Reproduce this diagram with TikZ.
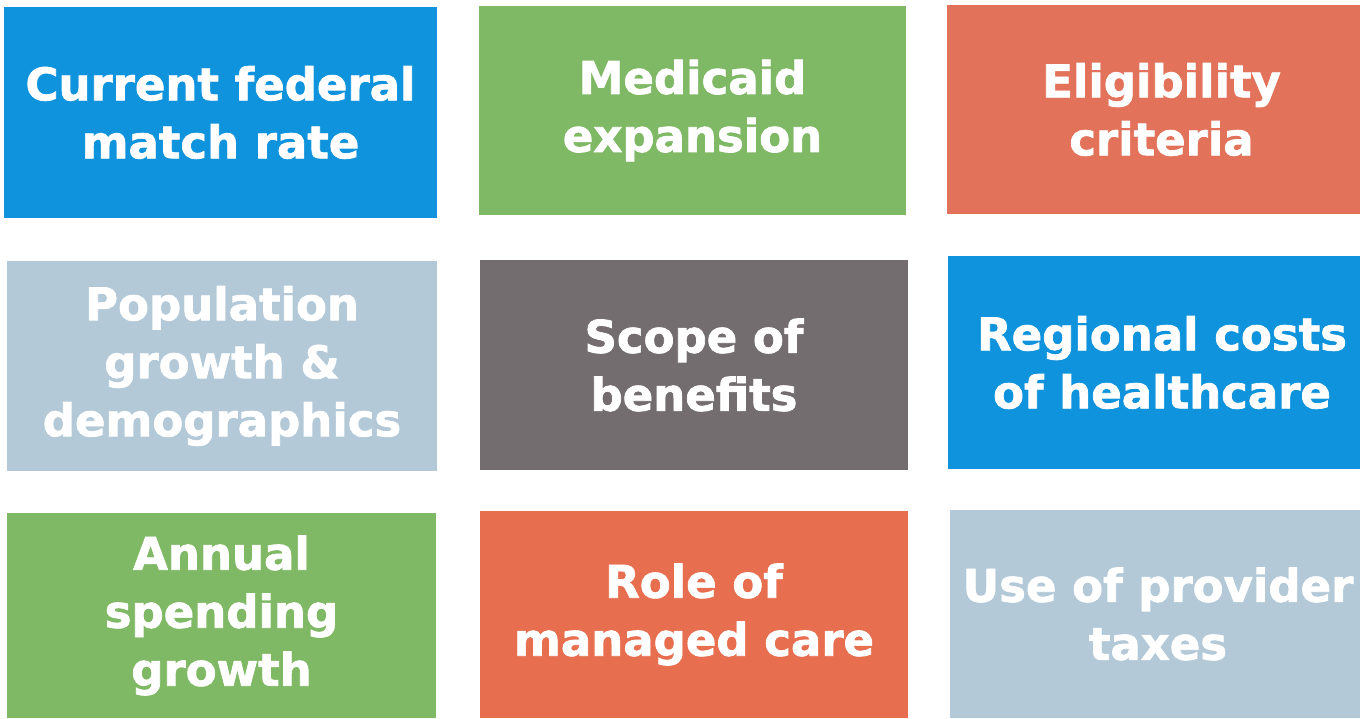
\documentclass[tikz,border=0pt]{standalone}
\usepackage{fontspec}
\newfontfamily\boxfont{DejaVu Sans}[BoldFeatures={FakeBold=1.6}]
\definecolor{cblue}{HTML}{0F93DC}
\definecolor{cgreen}{HTML}{80B965}
\definecolor{ccoral}{HTML}{E2725A}
\definecolor{cpale}{HTML}{B3C9D8}
\definecolor{cdark}{HTML}{736D70}
\definecolor{cred}{HTML}{E86E50}
\tikzset{
  tile/.style={inner sep=0pt, outer sep=0pt, text=white, align=center,
    font=\boxfont\bfseries\fontsize{45}{58}\selectfont},
}
\begin{document}
\begin{tikzpicture}[x=1pt,y=-1pt]
\fill[white] (0,0) rectangle (1360,718);
\useasboundingbox (0,0) rectangle (1360,718);
\newcommand\tileat[8]{%
  \node[tile, fill=#6, minimum width={#3-#1}, minimum height={#4-#2}] (#7) at ({(#1+#3)/2},{(#2+#4)/2}) {};
  \node[tile] (#7txt) at ([xshift=#8]#7.center) {#5};}
\tileat{4}{7}{437}{218}{Current federal\\match rate}{cblue}{t1}{0pt}
\tileat{479}{6}{906}{215}{Medicaid\\expansion}{cgreen}{t2}{0pt}
\tileat{947}{5}{1360}{214}{Eligibility\\criteria}{ccoral}{t3}{8pt}
\tileat{7}{261}{437}{471}{Population\\growth \&\\demographics}{cpale}{t4}{0pt}
\tileat{480}{260}{908}{470}{Scope of\\benefits}{cdark}{t5}{0pt}
\tileat{948}{256}{1360}{469}{Regional costs\\of healthcare}{cblue}{t6}{8pt}
\tileat{7}{513}{436}{718}{Annual\\spending\\growth}{cgreen}{t7}{0pt}
\tileat{480}{511}{908}{718}{Role of\\managed care}{cred}{t8}{0pt}
\tileat{950}{510}{1360}{718}{Use of provider\\taxes}{cpale}{t9}{3pt}
\end{tikzpicture}
\end{document}
